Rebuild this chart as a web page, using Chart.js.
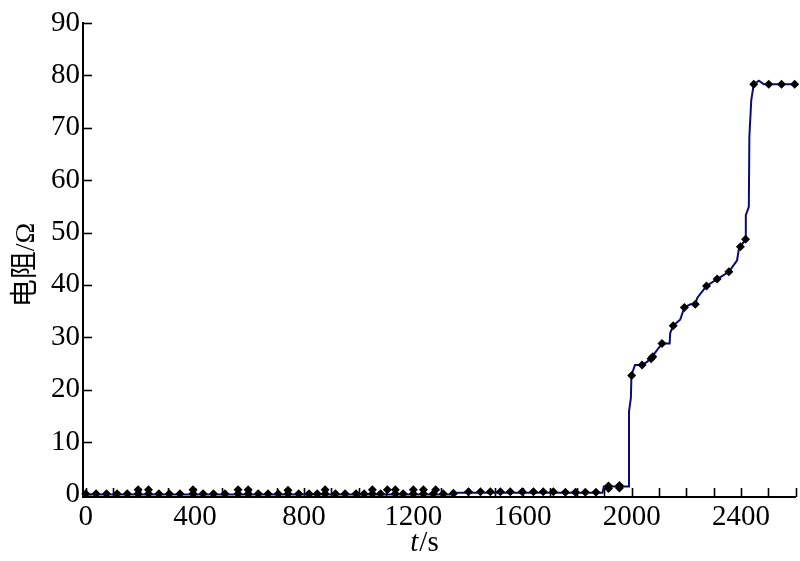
<!DOCTYPE html>
<html>
<head>
<meta charset="utf-8">
<script src="https://cdn.jsdelivr.net/npm/chart.js@4.4.0/dist/chart.umd.min.js"></script>
<style>
  body { margin: 0; background: #fff; }
  #wrap { width: 800px; height: 561px; position: relative; }
</style>
</head>
<body>
<div id="wrap"><canvas id="chart"></canvas></div>
<script>
// resistance curve (dense line), t in s, R in ohm
var lineT = [0, 1355, 1362, 1893, 1898, 1988, 1990, 1997, 1999, 2012, 2038, 2056, 2075, 2111, 2139, 2141,
  2152, 2178, 2193, 2215, 2233, 2240, 2274, 2313, 2356, 2386, 2392, 2398, 2417, 2418, 2429, 2431,
  2438, 2447, 2466, 2484, 2600];
var lineR = [0, 0, 0.3, 0.3, 1.5, 1.5, 15.8, 18.4, 22.7, 24.7, 24.7, 25.3, 26.3, 28.8, 28.8, 30.8,
  32.2, 33.4, 35.7, 36.3, 36.3, 37.5, 39.8, 41.1, 42.5, 44.7, 46.7, 47.3, 48.7, 53.3, 54.9, 68.3,
  75.3, 78.3, 79.0, 78.3, 78.3];

// diamond markers
var markT = [0, 38, 76, 115, 152, 192, 192, 230, 230, 268, 306, 345, 393, 393, 430, 468, 510, 558, 558,
  595, 595, 632, 668, 705, 741, 741, 780, 818, 848, 877, 877, 915, 950, 990, 1020, 1050, 1050,
  1080, 1105, 1134, 1134, 1163, 1200, 1200, 1237, 1237, 1273, 1282, 1310, 1347, 1402, 1446, 1482,
  1519, 1555, 1599, 1640, 1676, 1713, 1757, 1794, 1830, 1869, 1915, 1915, 1955, 1955,
  2000, 2038, 2071, 2077, 2111, 2152, 2193, 2233, 2274, 2313, 2356, 2398, 2417, 2447, 2502, 2549, 2597];
var markR = [0.1, 0.1, 0.1, 0.1, 0.1, 0.1, 0.9, 0.1, 0.9, 0.1, 0.1, 0.1, 0.1, 0.9, 0.1, 0.1, 0.1, 0.1, 0.9,
  0.1, 0.9, 0.1, 0.1, 0.1, 0.1, 0.8, 0.1, 0.1, 0.1, 0.1, 0.9, 0.1, 0.1, 0.1, 0.1, 0.1, 0.9,
  0.1, 0.9, 0.1, 0.9, 0.1, 0.1, 0.9, 0.1, 0.9, 0.1, 0.9, 0.1, 0.2, 0.5, 0.5, 0.5,
  0.5, 0.5, 0.5, 0.5, 0.5, 0.5, 0.4, 0.4, 0.4, 0.4, 1.1, 1.6, 1.2, 1.7,
  22.7, 24.7, 25.9, 26.3, 28.8, 32.2, 35.7, 36.3, 39.8, 41.1, 42.5, 47.3, 48.7, 78.3, 78.3, 78.3, 78.3];

var xLabels = [0, 400, 800, 1200, 1600, 2000, 2400];
var yLabels = [0, 10, 20, 30, 40, 50, 60, 70, 80, 90];

function toPoints(xs, ys) {
  var pts = [];
  for (var i = 0; i < xs.length; i++) {
    pts.push({x: xs[i], y: ys[i]});
  }
  return pts;
}

function fixedTicks(values) {
  return function(scale) {
    scale.ticks = values.map(function(v) { return {value: v}; });
  };
}

function plainLabel(v) {
  return String(v);
}

var serif = '"Liberation Serif", "Times New Roman", serif';

// inward tick marks and axis titles
var extras = {
  id: 'extras',
  beforeDatasetsDraw: function(chart) {
    var ctx = chart.ctx, area = chart.chartArea;
    var xs = chart.scales.x, ys = chart.scales.y;
    ctx.save();
    ctx.strokeStyle = '#000';
    ctx.lineWidth = 1.6;
    for (var v = 0; v <= 2600; v += 100) {
      var px = Math.round(xs.getPixelForValue(v)) + 0.5;
      ctx.beginPath();
      ctx.moveTo(px, area.bottom);
      ctx.lineTo(px, area.bottom - 9);
      ctx.stroke();
    }
    for (var j = 0; j < yLabels.length; j++) {
      var py = Math.round(ys.getPixelForValue(yLabels[j])) + 0.5;
      ctx.beginPath();
      ctx.moveTo(area.left, py);
      ctx.lineTo(area.left + 9, py);
      ctx.stroke();
    }
    ctx.restore();
  },
  afterDraw: function(chart) {
    var ctx = chart.ctx;
    ctx.save();
    ctx.fillStyle = '#000';
    ctx.textBaseline = 'middle';

    // x title: italic t, then /s
    ctx.font = 'italic 29px ' + serif;
    var w1 = ctx.measureText('t').width;
    ctx.font = '29px ' + serif;
    var w2 = ctx.measureText('/s').width;
    var x0 = 424 - (w1 + w2) / 2;
    ctx.textAlign = 'left';
    ctx.font = 'italic 29px ' + serif;
    ctx.fillText('t', x0, 543);
    ctx.font = '29px ' + serif;
    ctx.fillText('/s', x0 + w1 + 1, 543);

    // y title
    ctx.translate(27, 265);
    ctx.rotate(-Math.PI / 2);
    ctx.textAlign = 'center';
    ctx.font = '28px ' + serif + ', "Noto Sans CJK SC"';
    ctx.fillText('电阻/Ω', 0, 0);
    ctx.restore();
  }
};

var ctx = document.getElementById('chart').getContext('2d');

var chart = new Chart(ctx, {
  type: 'scatter',
  data: {
    datasets: [{
      label: 'markers',
      data: toPoints(markT, markR),
      showLine: false,
      pointStyle: 'rectRot',
      pointRadius: 4.5,
      pointBackgroundColor: '#000',
      pointBorderColor: '#000',
      pointBorderWidth: 0,
      clip: 8,
      order: 0
    }, {
      label: 'line',
      data: toPoints(lineT, lineR),
      showLine: true,
      borderColor: '#0b0b73',
      borderWidth: 2,
      pointRadius: 0,
      tension: 0,
      clip: 4,
      order: 1
    }]
  },
  options: {
    responsive: true,
    maintainAspectRatio: false,
    animation: false,
    layout: { padding: { left: 0, right: 4, top: 23, bottom: 0 } },
    plugins: {
      legend: { display: false },
      tooltip: { enabled: false }
    },
    scales: {
      x: {
        type: 'linear',
        min: -10,
        max: 2600,
        border: { color: '#000', width: 2 },
        grid: { drawOnChartArea: false, drawTicks: false },
        afterBuildTicks: fixedTicks(xLabels),
        afterFit: function(scale) { scale.height = 64; },
        ticks: {
          autoSkip: false,
          maxRotation: 0,
          padding: 3,
          color: '#000',
          font: { family: serif, size: 29 },
          callback: plainLabel
        }
      },
      y: {
        min: -0.5,
        max: 90,
        border: { color: '#000', width: 2 },
        grid: { drawOnChartArea: false, drawTicks: false },
        afterBuildTicks: fixedTicks(yLabels),
        afterFit: function(scale) { scale.width = 83; },
        ticks: {
          autoSkip: false,
          padding: 3,
          color: '#000',
          font: { family: serif, size: 29 },
          callback: plainLabel
        }
      }
    }
  },
  plugins: [extras]
});
</script>
</body>
</html>
